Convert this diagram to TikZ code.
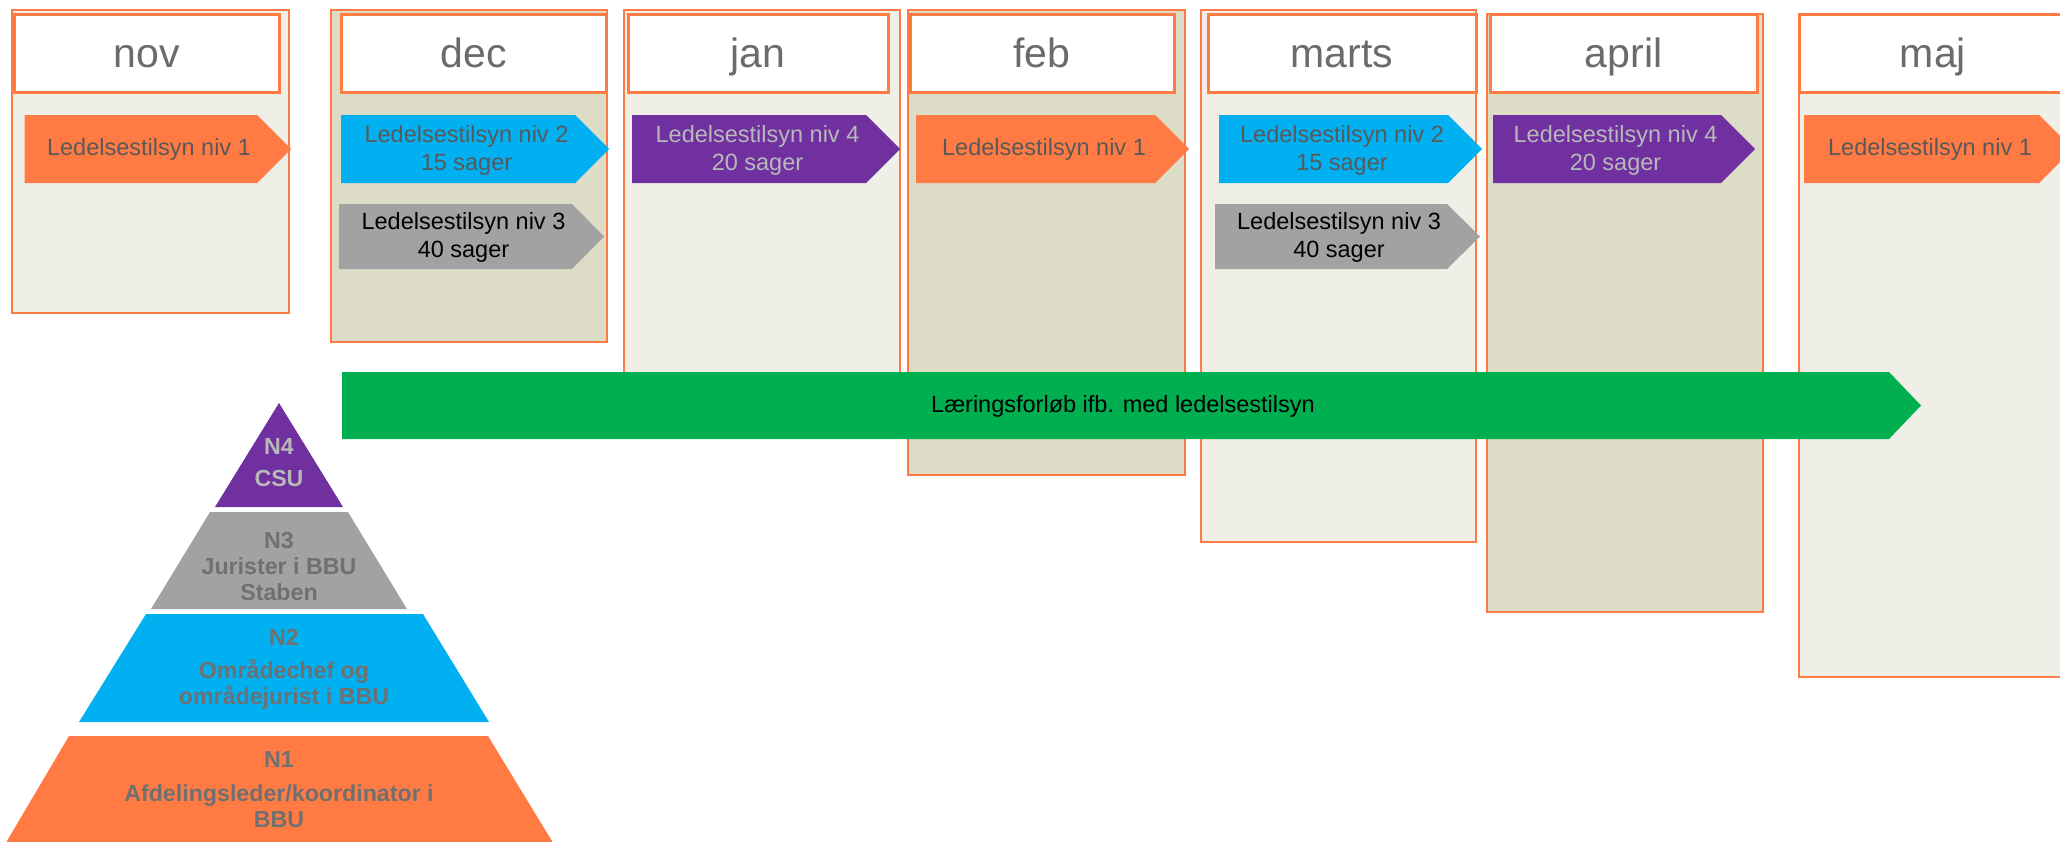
\documentclass[tikz,border=0pt]{standalone}
\usepackage{fontspec}
\setmainfont{Liberation Sans}
\usepackage{xcolor}
\definecolor{tilsynorange}{HTML}{FF7B43}
\definecolor{tilsynblue}{HTML}{00B0F0}
\definecolor{tilsynpurple}{HTML}{7030A0}
\definecolor{tilsyngray}{HTML}{A2A2A2}
\definecolor{forloebgreen}{HTML}{00B050}
\definecolor{collight}{HTML}{F0EFE7}
\definecolor{coldark}{HTML}{DDDCC7}
\definecolor{monthtext}{HTML}{6B6B6B}
\definecolor{darktext}{HTML}{595959}
\definecolor{lighttext}{HTML}{B8B8B8}
\definecolor{nivtext}{HTML}{707070}

\begin{document}
\begin{tikzpicture}[x=1pt,y=-1pt,
        monthcol/.style={draw=tilsynorange,line width=2pt},
        monthhead/.style={draw=tilsynorange,line width=3pt,fill=white},
        mlabel/.style={anchor=base,text=monthtext,font=\fontsize{41}{49}\selectfont},
        tlabel/.style={align=center,font=\fontsize{23.5}{28}\selectfont},
        nlabel/.style={align=center,text=nivtext,font=\bfseries\fontsize{23.2}{26}\selectfont}]
            \useasboundingbox (0,0) rectangle (2060,841);

            % draw the month columns
            \filldraw[monthcol,fill=collight] (12,10) rectangle (289,313);
            \filldraw[monthcol,fill=coldark] (331,10) rectangle (607,342);
            \filldraw[monthcol,fill=collight] (624,10) rectangle (900,410);
            \filldraw[monthcol,fill=coldark] (908,10) rectangle (1185,475);
            \filldraw[monthcol,fill=collight] (1201,10) rectangle (1476,542);
            \filldraw[monthcol,fill=coldark] (1487,14) rectangle (1763,612);
            \filldraw[monthcol,fill=collight] (1799,14) rectangle (2080,677);

            % month headers
            \filldraw[monthhead] (14,14) rectangle (279,92);
            \filldraw[monthhead] (341,14) rectangle (606,92);
            \filldraw[monthhead] (628,14) rectangle (888,92);
            \filldraw[monthhead] (910,14) rectangle (1174,92);
            \filldraw[monthhead] (1208,14) rectangle (1476,92);
            \filldraw[monthhead] (1490,14) rectangle (1757,92);
            \filldraw[monthhead] (1799,14) rectangle (2067,92);

            \node[mlabel] (nov) at (146.5,67) {nov};
            \node[mlabel] (dec) at (473.5,67) {dec};
            \node[mlabel] (jan) at (758,67) {jan};
            \node[mlabel] (feb) at (1042,67) {feb};
            \node[mlabel] (marts) at (1342,67) {marts};
            \node[mlabel] (april) at (1623.5,67) {april};
            \node[mlabel] (maj) at (1933,67) {maj};

            % nov
            \fill[tilsynorange] (24.5,115) -- (257,115) -- (291,149) -- (257,183) -- (24.5,183) -- cycle;
            \node[tlabel,text=darktext] (novniv) at (149,149) {Ledelsestilsyn niv 1};

            % dec
            \fill[tilsynblue] (341,115) -- (575,115) -- (609,149) -- (575,183) -- (341,183) -- cycle;
            \node[tlabel,text=darktext] (decniva) at (466.5,150) {Ledelsestilsyn niv 2\\15 sager};
            \fill[tilsyngray] (339,204) -- (572,204) -- (604,236.5) -- (572,269) -- (339,269) -- cycle;
            \node[tlabel,text=black] (decnivb) at (463.5,237) {Ledelsestilsyn niv 3\\40 sager};

            % jan
            \fill[tilsynpurple] (632,115) -- (866,115) -- (900,149) -- (866,183) -- (632,183) -- cycle;
            \node[tlabel,text=lighttext] (janniv) at (757.5,150) {Ledelsestilsyn niv 4\\20 sager};

            % feb
            \fill[tilsynorange] (916,115) -- (1155,115) -- (1189,149) -- (1155,183) -- (916,183) -- cycle;
            \node[tlabel,text=darktext] (febniv) at (1044,149) {Ledelsestilsyn niv 1};

            % marts
            \fill[tilsynblue] (1219,115) -- (1448,115) -- (1482,149) -- (1448,183) -- (1219,183) -- cycle;
            \node[tlabel,text=darktext] (martsniva) at (1342,150) {Ledelsestilsyn niv 2\\15 sager};
            \fill[tilsyngray] (1215,204) -- (1447,204) -- (1480,236.5) -- (1447,269) -- (1215,269) -- cycle;
            \node[tlabel,text=black] (martsnivb) at (1339,237) {Ledelsestilsyn niv 3\\40 sager};

            % april
            \fill[tilsynpurple] (1493,115) -- (1721,115) -- (1755,149) -- (1721,183) -- (1493,183) -- cycle;
            \node[tlabel,text=lighttext] (aprilniv) at (1615.5,150) {Ledelsestilsyn niv 4\\20 sager};

            % maj
            \fill[tilsynorange] (1804,115) -- (2039,115) -- (2073,149) -- (2039,183) -- (1804,183) -- cycle;
            \node[tlabel,text=darktext] (majniv) at (1930,149) {Ledelsestilsyn niv 1};

            % learning arrow
            \fill[forloebgreen] (342,372) -- (1889,372) -- (1921,405.5) -- (1889,439) -- (342,439) -- cycle;
            \node[tlabel,text=black] (forloeb) at (1123,406) {Læringsforløb ifb. med ledelsestilsyn};

            % the pyramid
            \fill[tilsynpurple] (279,403) -- (343,507) -- (215,507) -- cycle;
            \fill[tilsyngray] (210,512) -- (348,512) -- (407,609) -- (151,609) -- cycle;
            \fill[tilsynblue] (146,614) -- (423,614) -- (489,722) -- (79,722) -- cycle;
            \fill[tilsynorange] (69,736) -- (488,736) -- (555,846) -- (4,846) -- cycle;

            \node[nlabel,text=lighttext] (n4) at (279,463) {N4\\[6pt]CSU};
            \node[nlabel] (n3) at (279,567) {N3\\Jurister i BBU\\Staben};
            \node[nlabel] (n2) at (284,669) {N2\\[7pt]Områdechef og\\områdejurist i BBU};
            \node[nlabel] (n1) at (279,790) {N1\\[8pt]Afdelingsleder/koordinator i\\BBU};
\end{tikzpicture}
\end{document}
